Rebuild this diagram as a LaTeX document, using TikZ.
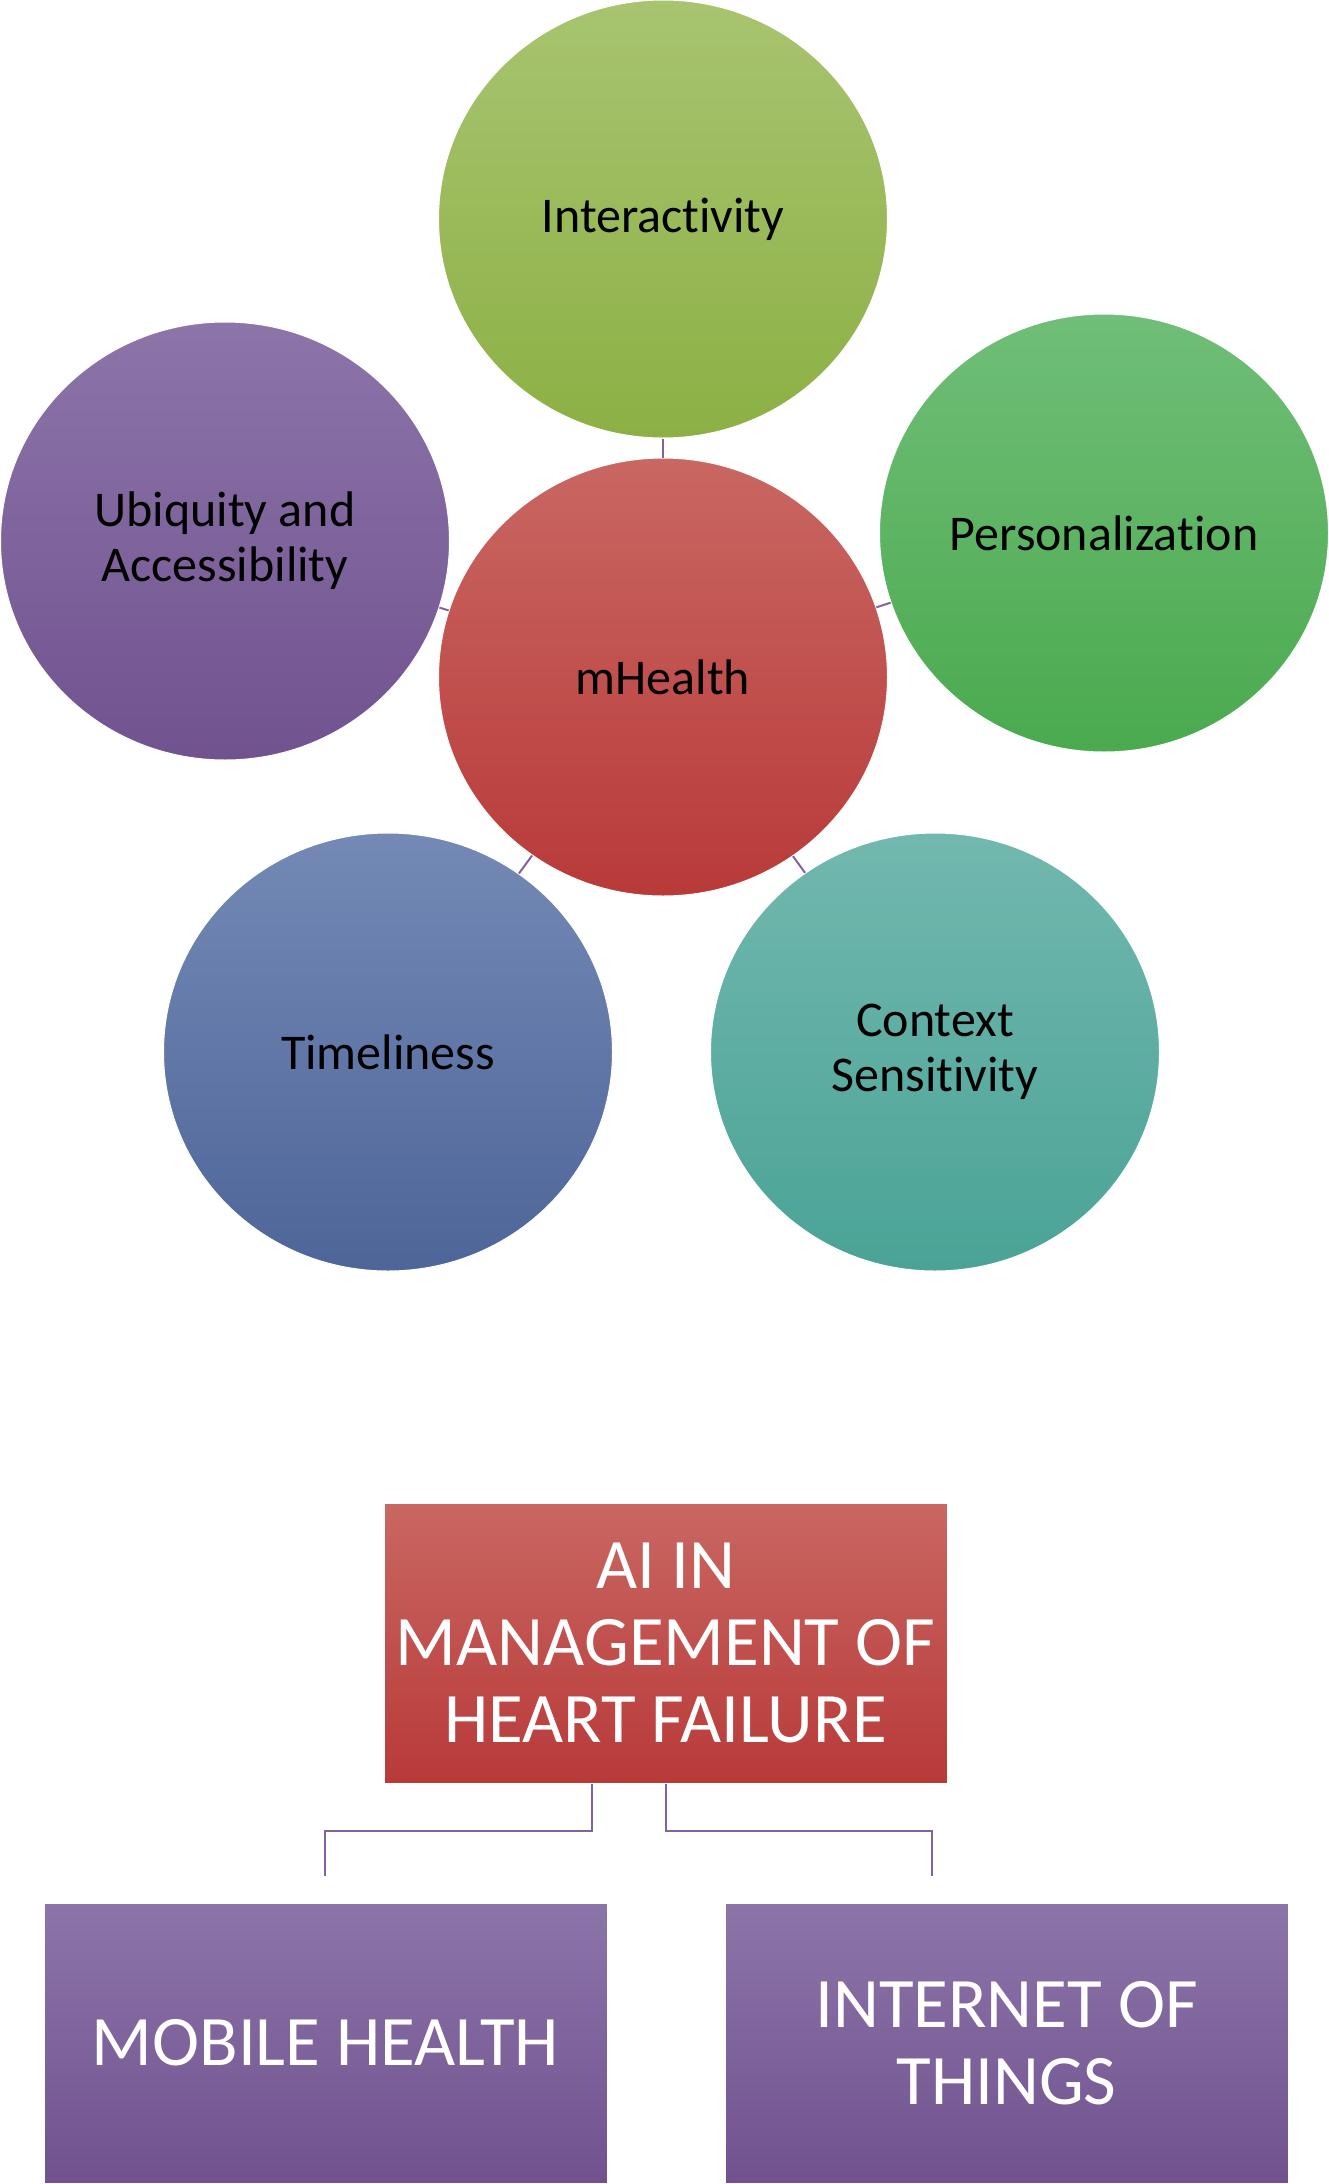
\documentclass[tikz,border=0pt]{standalone}
\usepackage{fontspec}
\setmainfont{Carlito}[Ligatures=NoCommon]
\usetikzlibrary{shapes.geometric}

\definecolor{inttop}{HTML}{A8C470}
\definecolor{intbot}{HTML}{8CB044}
\definecolor{pertop}{HTML}{70BE78}
\definecolor{perbot}{HTML}{4AAA4E}
\definecolor{redtop}{HTML}{C96762}
\definecolor{redbot}{HTML}{B83A39}
\definecolor{ubitop}{HTML}{8C75A9}
\definecolor{ubibot}{HTML}{71528F}
\definecolor{timtop}{HTML}{7489B5}
\definecolor{timbot}{HTML}{4E6599}
\definecolor{ctxtop}{HTML}{72B8AF}
\definecolor{ctxbot}{HTML}{4AA396}
\definecolor{violet}{HTML}{8064A2}

\begin{document}
\begin{tikzpicture}[x=1pt,y=-1pt,
    bubble/.style={ellipse,minimum width=449pt,minimum height=438pt,inner sep=0pt,
      draw=white,line width=1pt,align=center,font=\fontsize{50}{55}\selectfont},
    box/.style={rectangle,minimum width=563pt,minimum height=280pt,inner sep=0pt,
      draw=white,line width=1pt,align=center,text=white,font=\fontsize{71}{77}\selectfont},
    link/.style={draw=violet,line width=2pt}]

  \useasboundingbox (0,0) rectangle (1329,2184);

  \node[bubble,top color=redtop,bottom color=redbot] (mh) at (663,677) {mHealth};
  \node[bubble,top color=inttop,bottom color=intbot] (int) at (663,219) {Interactivity};
  \node[bubble,top color=ubitop,bottom color=ubibot] (ubi) at (225,541) {Ubiquity and\\Accessibility};
  \node[bubble,top color=pertop,bottom color=perbot] (per) at (1104,533) {Personalization};
  \node[bubble,top color=timtop,bottom color=timbot] (tim) at (388,1052) {Timeliness};
  \node[bubble,top color=ctxtop,bottom color=ctxbot] (ctx) at (935,1052) {Context\\Sensitivity};

  \path[link] (mh) edge (int)
  (mh) edge (ubi)
  (mh) edge (per)
  (mh) edge (tim)
  (mh) edge (ctx);

  \node[box,top color=redtop,bottom color=redbot] (ai) at (665.5,1643) {AI IN\\MANAGEMENT OF\\HEART FAILURE};
  \node[box,top color=ubitop,bottom color=ubibot] (mob) at (325.5,2043) {MOBILE HEALTH};
  \node[box,top color=ubitop,bottom color=ubibot] (iot) at (1006.5,2043) {INTERNET OF\\THINGS};

  \coordinate (mobend) at (325,1876);
  \coordinate (iotend) at (932,1876);

  \draw[link] ([xshift=-74pt]ai.south) -- ++(0,47) -| (mobend);
  \draw[link] (ai.south) -- ++(0,47) -| (iotend);

\end{tikzpicture}
\end{document}
